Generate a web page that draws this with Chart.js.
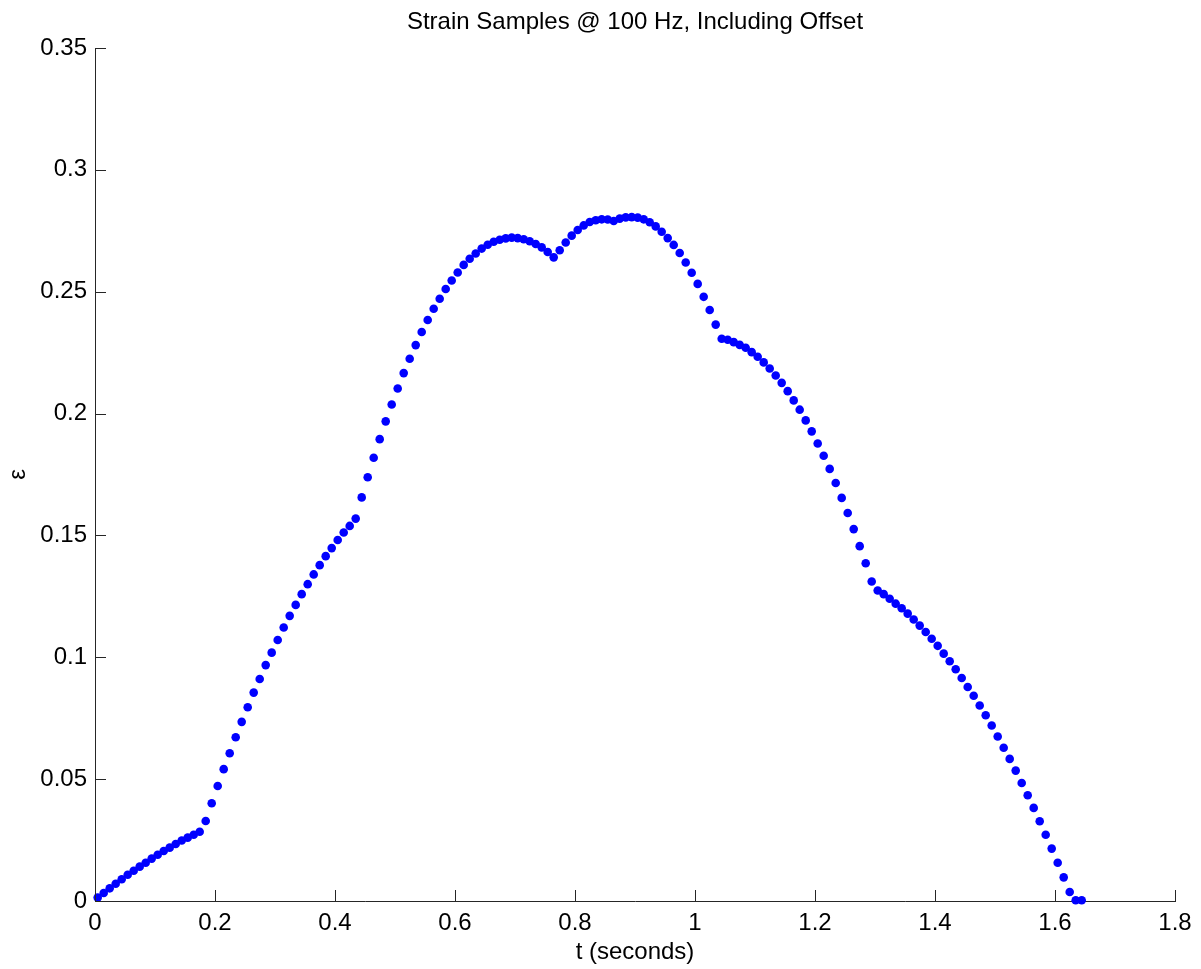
<!DOCTYPE html>
<html>
<head>
<meta charset="utf-8">
<script src="https://cdn.jsdelivr.net/npm/chart.js@4/dist/chart.umd.min.js"></script>
<style>
  body { margin: 0; background: #fff; }
  canvas { display: block; }
</style>
</head>
<body>
<canvas id="strainChart" width="1201" height="969"></canvas>
<script>
// strain samples, one every 10 ms (100 Hz)
const sampleRate = 100;
const startTime = 0.0045;
const strain = [
  0.0014, 0.0033, 0.0052, 0.0071, 0.0089, 0.0108, 0.0124, 0.0141, 0.0157, 0.0174,
  0.0190, 0.0205, 0.0219, 0.0234, 0.0248, 0.0260, 0.0272, 0.0284, 0.0328, 0.0401,
  0.0472, 0.0541, 0.0606, 0.0672, 0.0735, 0.0795, 0.0855, 0.0911, 0.0968, 0.1019,
  0.1071, 0.1122, 0.1170, 0.1215, 0.1259, 0.1300, 0.1340, 0.1378, 0.1415, 0.1448,
  0.1481, 0.1512, 0.1539, 0.1569, 0.1656, 0.1739, 0.1819, 0.1895, 0.1968, 0.2037,
  0.2103, 0.2166, 0.2225, 0.2281, 0.2335, 0.2384, 0.2430, 0.2471, 0.2511, 0.2546,
  0.2579, 0.2610, 0.2635, 0.2657, 0.2677, 0.2693, 0.2705, 0.2713, 0.2719, 0.2722,
  0.2720, 0.2715, 0.2707, 0.2696, 0.2682, 0.2663, 0.2641, 0.2670, 0.2702, 0.2730,
  0.2753, 0.2772, 0.2786, 0.2793, 0.2797, 0.2796, 0.2790, 0.2800, 0.2805, 0.2806,
  0.2804, 0.2797, 0.2785, 0.2768, 0.2746, 0.2720, 0.2692, 0.2659, 0.2620, 0.2578,
  0.2532, 0.2479, 0.2425, 0.2365, 0.2307, 0.2303, 0.2293, 0.2282, 0.2270, 0.2252,
  0.2233, 0.2210, 0.2185, 0.2156, 0.2126, 0.2092, 0.2054, 0.2016, 0.1972, 0.1927,
  0.1877, 0.1827, 0.1773, 0.1715, 0.1654, 0.1592, 0.1526, 0.1456, 0.1386, 0.1311,
  0.1274, 0.1259, 0.1240, 0.1220, 0.1201, 0.1179, 0.1155, 0.1130, 0.1104, 0.1076,
  0.1047, 0.1015, 0.0984, 0.0951, 0.0915, 0.0878, 0.0842, 0.0802, 0.0762, 0.0720,
  0.0675, 0.0629, 0.0583, 0.0535, 0.0484, 0.0434, 0.0382, 0.0327, 0.0272, 0.0215,
  0.0157, 0.0097, 0.0037, 0.0003, 0.0003
];
const xTicks = [0, 0.2, 0.4, 0.6, 0.8, 1, 1.2, 1.4, 1.6, 1.8];
const yTicks = [0, 0.05, 0.1, 0.15, 0.2, 0.25, 0.3, 0.35];

const points = strain.map((v, i) => ({ x: startTime + i / sampleRate, y: v }));

const fontFamily = '"Liberation Sans", Arial, Helvetica, sans-serif';
const axisColor = '#262626';

// MATLAB-style ticks pointing into the plot area
const inwardTicks = {
  id: 'inwardTicks',
  afterDraw(chart) {
    const { ctx, chartArea, scales } = chart;
    ctx.save();
    ctx.strokeStyle = axisColor;
    ctx.lineWidth = 1;
    ctx.beginPath();
    scales.x.ticks.forEach(t => {
      const px = Math.round(scales.x.getPixelForValue(t.value)) + 0.5;
      ctx.moveTo(px, chartArea.bottom);
      ctx.lineTo(px, chartArea.bottom - 11);
    });
    scales.y.ticks.forEach(t => {
      const py = Math.round(scales.y.getPixelForValue(t.value)) + 0.5;
      ctx.moveTo(chartArea.left, py);
      ctx.lineTo(chartArea.left + 11, py);
    });
    ctx.stroke();
    ctx.restore();
  }
};

const fmt = v => String(parseFloat(Number(v).toFixed(2)));

new Chart(document.getElementById('strainChart'), {
  type: 'scatter',
  data: {
    datasets: [{
      data: points,
      backgroundColor: '#0000ff',
      borderWidth: 0,
      pointRadius: 4.3,
      pointHoverRadius: 4.3,
      clip: false
    }]
  },
  options: {
    responsive: false,
    animation: false,
    layout: { padding: { left: 0, right: 26, top: 0, bottom: 0 } },
    plugins: {
      legend: { display: false },
      tooltip: { enabled: false },
      title: {
        display: true,
        fullSize: false,
        text: 'Strain Samples @ 100 Hz, Including Offset',
        color: '#000',
        font: { family: fontFamily, size: 24, weight: 'normal' },
        padding: { top: 8, bottom: 11.2 }
      }
    },
    scales: {
      x: {
        type: 'linear',
        min: 0,
        max: 1.8,
        afterBuildTicks: s => { s.ticks = xTicks.map(v => ({ value: v })); },
        afterFit: s => { s.height = 68; },
        grid: { display: false, drawTicks: false },
        border: { display: true, color: axisColor, width: 1 },
        ticks: {
          color: '#000',
          padding: 8,
          maxRotation: 0,
          font: { family: fontFamily, size: 24 },
          callback: fmt
        },
        title: {
          display: true,
          text: 't (seconds)',
          color: '#000',
          font: { family: fontFamily, size: 24 },
          padding: { top: 0, bottom: 2 }
        }
      },
      y: {
        type: 'linear',
        min: 0,
        max: 0.35,
        afterBuildTicks: s => { s.ticks = yTicks.map(v => ({ value: v })); },
        afterFit: s => { s.width = 95; },
        grid: { display: false, drawTicks: false },
        border: { display: true, color: axisColor, width: 1 },
        ticks: {
          color: '#000',
          padding: 8,
          font: { family: fontFamily, size: 24 },
          callback: fmt
        },
        title: {
          display: true,
          text: 'ε',
          color: '#000',
          font: { family: fontFamily, size: 24 },
          padding: { top: 4, bottom: 0 }
        }
      }
    }
  },
  plugins: [inwardTicks]
});
</script>
</body>
</html>
